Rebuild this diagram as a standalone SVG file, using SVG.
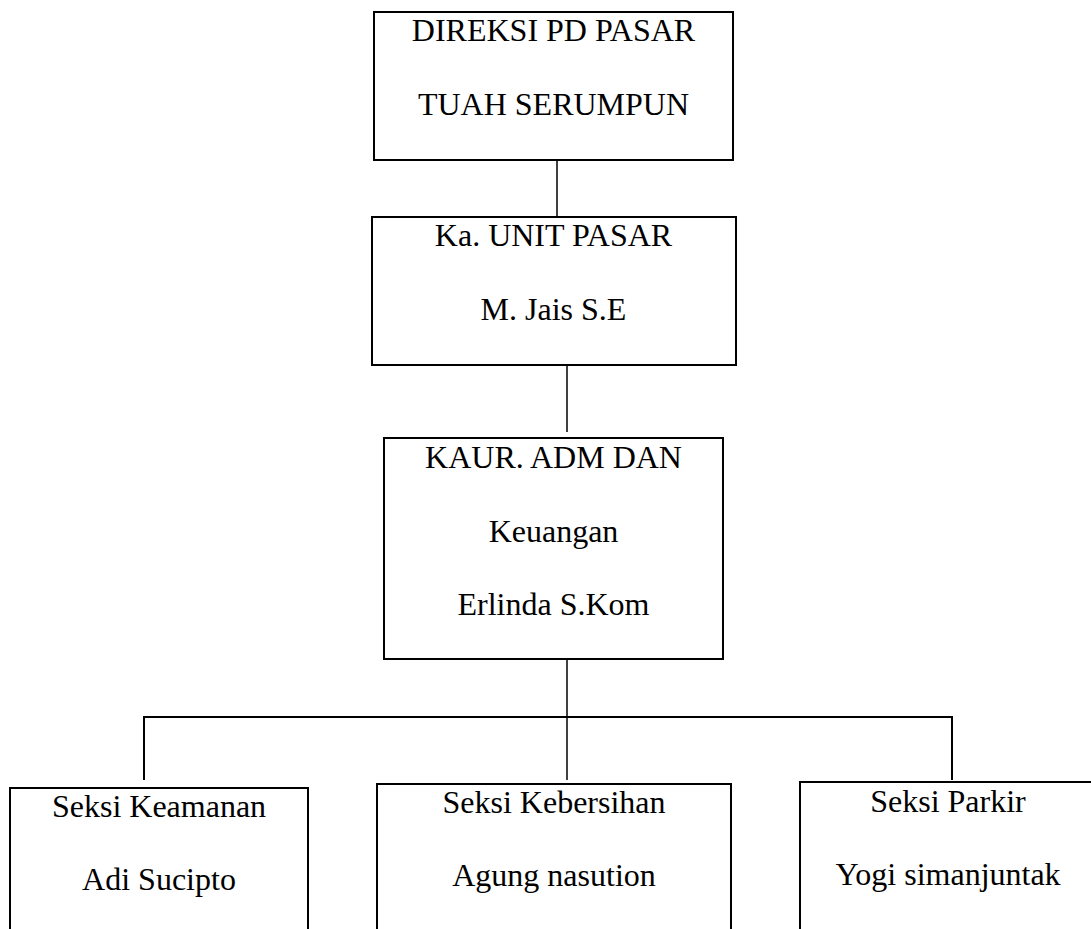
<svg xmlns="http://www.w3.org/2000/svg" width="1091" height="929" viewBox="0 0 1091 929">
<style>
.box{fill:#fff;stroke:#000;stroke-width:2}
.lbl{font-family:'Times New Roman','Liberation Serif',Tinos,'DejaVu Serif',serif;font-size:32px;fill:#000;text-anchor:middle}
.conn{fill:none;stroke:#000;stroke-width:1.5}
.bus{fill:none;stroke:#000;stroke-width:2}
</style>
<rect width="1091" height="929" fill="#fff"/>
<g id="connectors">
<line class="conn" x1="557" y1="160" x2="557" y2="217"/>
<line class="conn" x1="567" y1="365" x2="567" y2="432"/>
<line class="conn" x1="567" y1="655" x2="567" y2="780"/>
<polyline class="bus" points="144,780 144,717 952,717 952,780"/>
</g>
<g id="node-direksi">
<rect class="box" x="374" y="12" width="359" height="148"/>
<text class="lbl" x="553.5" y="41">DIREKSI PD PASAR</text>
<text class="lbl" x="553.5" y="115">TUAH SERUMPUN</text>
</g>
<g id="node-unit">
<rect class="box" x="372" y="217" width="364" height="148"/>
<text class="lbl" x="553.5" y="246">Ka. UNIT PASAR</text>
<text class="lbl" x="553.5" y="320">M. Jais S.E</text>
</g>
<g id="node-kaur">
<rect class="box" x="384" y="438" width="339" height="221"/>
<text class="lbl" x="553.5" y="468">KAUR. ADM DAN</text>
<text class="lbl" x="553.5" y="542">Keuangan</text>
<text class="lbl" x="553.5" y="615">Erlinda S.Kom</text>
</g>
<g id="node-keamanan">
<rect class="box" x="10" y="788" width="298" height="180"/>
<text class="lbl" x="159" y="817">Seksi Keamanan</text>
<text class="lbl" x="159" y="890">Adi Sucipto</text>
</g>
<g id="node-kebersihan">
<rect class="box" x="377" y="784" width="354" height="180"/>
<text class="lbl" x="554" y="813">Seksi Kebersihan</text>
<text class="lbl" x="554" y="886">Agung nasution</text>
</g>
<g id="node-parkir">
<rect class="box" x="800" y="782" width="296" height="180"/>
<text class="lbl" x="948" y="812">Seksi Parkir</text>
<text class="lbl" x="948" y="885">Yogi simanjuntak</text>
</g>
</svg>
